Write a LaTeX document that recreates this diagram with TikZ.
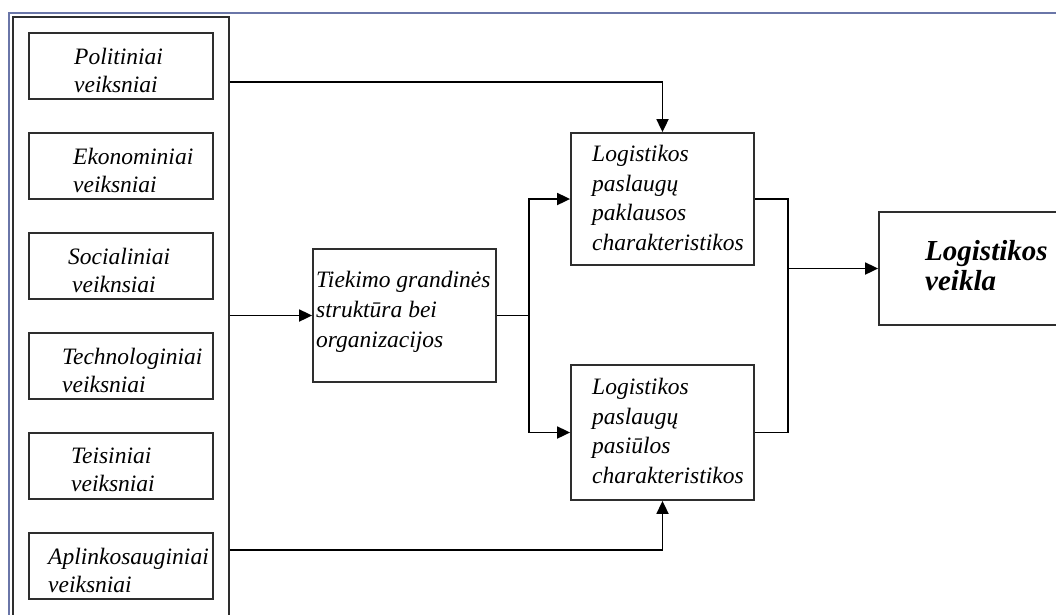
\documentclass[tikz,border=0pt]{standalone}
\usepackage{fontspec}
\setmainfont{Liberation Serif}
\usetikzlibrary{arrows.meta}
\definecolor{framecol}{HTML}{6A76A8}
\definecolor{boxgray}{HTML}{2E2E2E}
\begin{document}
\begin{tikzpicture}[x=1pt,y=-1pt,
  box/.style={draw=boxgray, line width=1.8pt, rectangle, inner sep=0pt},
  factor/.style={box, minimum width=184pt, minimum height=66pt},
  lbl/.style={inner sep=0pt, anchor=west, align=left, font=\fontsize{23.5}{28}\selectfont\itshape},
  lblw/.style={inner sep=0pt, anchor=west, align=left, font=\fontsize{23.5}{29.7}\selectfont\itshape},
  line/.style={draw=black, line width=1.8pt},
  arr/.style={line, -{Triangle[length=13pt,width=12pt]}}]
\useasboundingbox (0,0) rectangle (1056,614);

% page frame
\draw[framecol, line width=1.6pt] (9,620) -- (9,13) -- (1060,13);

% group of external factors
\node[box, minimum width=216.3pt, minimum height=613.3pt] (grp) at (120.85,323.35) {};
\node[factor] (f1) at (121,66) {};
\node[factor] (f2) at (121,166) {};
\node[factor] (f3) at (121,266) {};
\node[factor] (f4) at (121,366) {};
\node[factor] (f5) at (121,466) {};
\node[factor] (f6) at (121,566) {};
\node[lbl] (t1) at (74,70) {Politiniai\\veiksniai};
\node[lbl] (t2) at (73,170) {Ekonominiai\\veiksniai};
\node[lbl] (t3) at (68,270) {Socialiniai\\\hspace{4pt}veiknsiai};
\node[lbl] (t4) at (62,370) {Technologiniai\\veiksniai};
\node[lbl] (t5) at (71,470) {Teisiniai\\veiksniai};
\node[lbl] (t6) at (48,570) {Aplinkosauginiai\\veiksniai};

% supply chain, demand, supply, outcome
\node[box, minimum width=183pt, minimum height=133pt] (tie) at (404.5,315.5) {};
\node[lblw] (ttie) at (316,312) {Tiekimo grandinės\\struktūra bei\\organizacijos};
\node[box, minimum width=183pt, minimum height=132pt] (dem) at (662.5,199) {};
\node[lblw] (tdem) at (592,198) {Logistikos\\paslaugų\\paklausos\\charakteristikos};
\node[box, minimum width=183pt, minimum height=135pt] (sup) at (662.5,432.5) {};
\node[lblw] (tsup) at (592,431) {Logistikos\\paslaugų\\pasiūlos\\charakteristikos};
\node[box, minimum width=191pt, minimum height=113pt] (act) at (974.5,268.5) {};
\node[inner sep=0pt, anchor=west, align=left, font=\fontsize{29}{30}\selectfont\bfseries\itshape] (tact) at (925,266) {Logistikos\\veikla};

% connectors
\coordinate (pTop) at (grp.east |- 0,82);
\coordinate (pBot) at (grp.east |- 0,550);
\coordinate (split) at (529,315.5);
\coordinate (merge) at (788,268.5);
\draw[arr] (pTop) -| (dem.north);
\draw[arr] (pBot) -| (sup.south);
\draw[arr] (grp.east |- tie.west) -- (tie.west);
\draw[line] (tie.east) -- (split);
\draw[arr] (split) |- (dem.west);
\draw[arr] (split) |- (sup.west);
\draw[line] (dem.east) -| (merge);
\draw[line] (sup.east) -| (merge);
\draw[arr] (merge) -- (act.west);
\end{tikzpicture}
\end{document}
